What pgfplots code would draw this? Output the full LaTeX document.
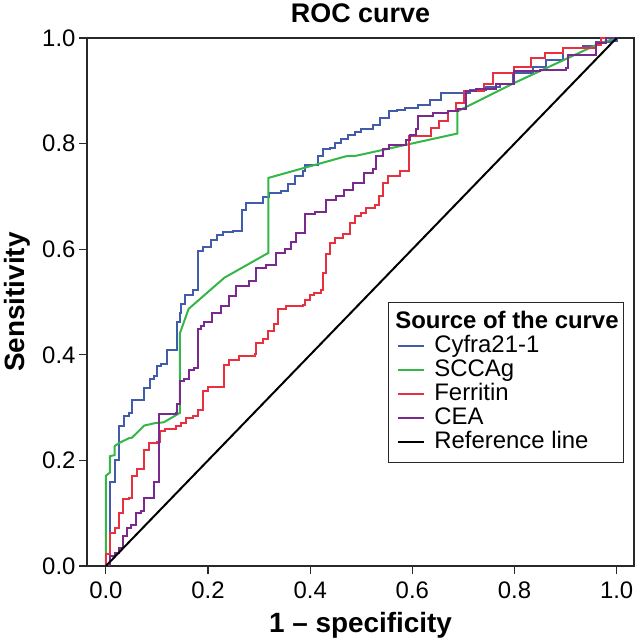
\documentclass[border=0pt]{standalone}
\usepackage{pgfplots}
\pgfplotsset{compat=1.18}
\usepackage{fontspec}
\setmainfont{Liberation Sans}
\definecolor{cblue}{RGB}{66,92,172}
\definecolor{cgreen}{RGB}{52,182,72}
\definecolor{cred}{RGB}{232,48,62}
\definecolor{cpurple}{RGB}{122,42,142}
\definecolor{frame}{RGB}{40,40,40}
\begin{document}
\begin{tikzpicture}
\path[use as bounding box] (0bp,0bp) rectangle (636bp,641bp);
\begin{axis}[
  at={(87bp,75bp)}, anchor=south west,
  scale only axis, width=547bp, height=528bp,
  xmin=-0.037, xmax=1.034, ymin=0, ymax=1,
  xtick={0,0.2,0.4,0.6,0.8,1.0}, ytick={0,0.2,0.4,0.6,0.8,1.0},
  xtick pos=bottom, ytick pos=left, tick align=outside,
  major tick length=8bp,
  every tick/.style={frame, line width=1.1bp},
  axis line style={frame, line width=1.2bp},
  /pgf/number format/.cd, fixed, fixed zerofill, precision=1, assume math mode=true,
  /pgfplots/.cd,
  ticklabel style={font=\fontsize{24}{28}\selectfont},
  xticklabel style={yshift=-4bp},
  title={ROC curve},
  title style={at={(axis description cs:0.5,1.036)}, anchor=center, font=\fontsize{27}{30}\selectfont\bfseries},
  xlabel={1 -- specificity},
  xlabel style={at={(axis description cs:0.5,-0.112)}, anchor=center, font=\fontsize{28}{32}\selectfont\bfseries},
  ylabel={Sensitivity},
  ylabel style={at={(axis description cs:-0.128,0.5)}, anchor=center, rotate=0, font=\fontsize{28}{32}\selectfont\bfseries},
  legend cell align=left,
  legend image code/.code={\draw[#1] (7bp,0bp) -- (33bp,0bp); \path (40bp,0bp);},
  legend style={at={(axis description cs:0.550,0.5)}, anchor=north west, draw=frame, line width=1bp,
    font=\fontsize{24}{28}\selectfont, row sep=0bp, inner xsep=3bp, inner ysep=8bp,
    nodes={text height=17bp, text depth=5bp, inner ysep=1bp, inner xsep=2bp}},
]
\addlegendimage{empty legend}
\addlegendentry{\hspace*{-39bp}\textbf{Source of the curve}}

% Cyfra21-1
\addplot[cblue, line width=2bp, const plot] coordinates {
(0,0) (0.008,0.03) (0.008,0.16) (0.018,0.16) (0.018,0.2) (0.025,0.2) (0.025,0.266) (0.035,0.266) (0.035,0.285) (0.045,0.29) (0.051,0.29) (0.051,0.314) (0.064,0.314) (0.07,0.314) (0.075,0.337) (0.085,0.337) (0.087,0.354) (0.095,0.36) (0.101,0.378) (0.108,0.383) (0.117,0.383) (0.119,0.409) (0.137,0.409) (0.139,0.463) (0.146,0.48) (0.147,0.497) (0.154,0.514) (0.171,0.522) (0.180,0.522) (0.180,0.596) (0.19,0.605) (0.206,0.605) (0.206,0.618) (0.218,0.626) (0.229,0.632) (0.248,0.635) (0.267,0.640) (0.267,0.675) (0.275,0.688) (0.294,0.688) (0.307,0.698) (0.32,0.707) (0.343,0.71) (0.357,0.724) (0.371,0.738) (0.386,0.748) (0.389,0.76) (0.405,0.76) (0.415,0.776) (0.425,0.789) (0.438,0.791) (0.448,0.801) (0.461,0.808) (0.474,0.816) (0.487,0.822) (0.5,0.827) (0.523,0.836) (0.536,0.849) (0.555,0.861) (0.57,0.864) (0.585,0.868) (0.611,0.874) (0.634,0.883) (0.657,0.895) (0.686,0.896) (0.712,0.901) (0.745,0.908) (0.771,0.912) (0.797,0.934) (0.836,0.946) (0.862,0.959) (0.895,0.981) (0.934,0.984) (0.96,0.992) (0.99,0.995) (1,1)
};
\addlegendentry{Cyfra21-1}

% SCCAg
\addplot[cgreen, line width=2bp] coordinates {
(0,0) (0,0.171) (0.008,0.177) (0.008,0.208) (0.017,0.21) (0.017,0.227) (0.026,0.233) (0.045,0.242) (0.051,0.243) (0.075,0.266) (0.098,0.271) (0.113,0.272) (0.145,0.29) (0.145,0.441) (0.162,0.487) (0.232,0.546) (0.318,0.593) (0.318,0.735) (0.470,0.776) (0.490,0.777) (0.688,0.819) (0.688,0.861) (0.80,0.915) (0.967,0.99) (1,1)
};
\addlegendentry{SCCAg}

% Ferritin
\addplot[cred, line width=2bp, const plot] coordinates {
(0,0) (0,0.022) (0.008,0.022) (0.008,0.063) (0.017,0.066) (0.017,0.072) (0.025,0.072) (0.025,0.10) (0.033,0.10) (0.033,0.126) (0.045,0.128) (0.051,0.13) (0.051,0.171) (0.06,0.184) (0.075,0.184) (0.075,0.219) (0.085,0.233) (0.1,0.235) (0.105,0.255) (0.115,0.26) (0.137,0.265) (0.147,0.27) (0.157,0.28) (0.17,0.285) (0.18,0.296) (0.19,0.305) (0.19,0.331) (0.2,0.339) (0.232,0.339) (0.232,0.38) (0.242,0.391) (0.261,0.397) (0.291,0.402) (0.294,0.423) (0.307,0.429) (0.317,0.446) (0.33,0.458) (0.337,0.486) (0.353,0.492) (0.386,0.495) (0.39,0.503) (0.399,0.514) (0.408,0.517) (0.422,0.523) (0.425,0.555) (0.431,0.59) (0.438,0.612) (0.448,0.621) (0.464,0.628) (0.477,0.628) (0.477,0.65) (0.487,0.662) (0.5,0.668) (0.51,0.678) (0.526,0.683) (0.535,0.7) (0.542,0.726) (0.552,0.739) (0.575,0.748) (0.593,0.757) (0.593,0.815) (0.634,0.815) (0.637,0.83) (0.653,0.83) (0.653,0.842) (0.67,0.842) (0.67,0.861) (0.686,0.872) (0.686,0.877) (0.702,0.88) (0.702,0.899) (0.741,0.9) (0.741,0.912) (0.758,0.912) (0.758,0.934) (0.797,0.934) (0.80,0.945) (0.833,0.953) (0.833,0.962) (0.859,0.972) (0.895,0.972) (0.895,0.981) (0.96,0.986) (0.97,1.0) (1,1)
};
\addlegendentry{Ferritin}

% CEA
\addplot[cpurple, line width=2bp, const plot] coordinates {
(0,0) (0.008,0.008) (0.008,0.018) (0.017,0.018) (0.017,0.025) (0.025,0.034) (0.033,0.056) (0.041,0.072) (0.05,0.077) (0.059,0.10) (0.068,0.105) (0.075,0.129) (0.094,0.13) (0.094,0.16) (0.103,0.16) (0.103,0.287) (0.137,0.29) (0.139,0.307) (0.145,0.307) (0.145,0.35) (0.153,0.355) (0.162,0.372) (0.172,0.375) (0.18,0.396) (0.18,0.449) (0.186,0.455) (0.193,0.463) (0.208,0.479) (0.226,0.492) (0.241,0.511) (0.255,0.53) (0.281,0.539) (0.294,0.565) (0.313,0.57) (0.333,0.593) (0.35,0.6) (0.363,0.614) (0.373,0.631) (0.389,0.666) (0.41,0.67) (0.431,0.68) (0.431,0.694) (0.45,0.7) (0.467,0.713) (0.483,0.726) (0.506,0.729) (0.506,0.745) (0.523,0.752) (0.528,0.776) (0.542,0.789) (0.555,0.798) (0.588,0.806) (0.595,0.817) (0.608,0.827) (0.611,0.852) (0.64,0.857) (0.67,0.861) (0.69,0.865) (0.706,0.87) (0.706,0.899) (0.725,0.903) (0.764,0.912) (0.78,0.913) (0.8,0.915) (0.8,0.937) (0.85,0.94) (0.901,0.943) (0.905,0.968) (0.96,0.975) (0.96,0.991) (0.98,1.0) (1,1)
};
\addlegendentry{CEA}

% Reference line
\addplot[black, line width=2bp] coordinates {(0,0) (1,1)};
\addlegendentry{Reference line}
\end{axis}
\end{tikzpicture}
\end{document}
